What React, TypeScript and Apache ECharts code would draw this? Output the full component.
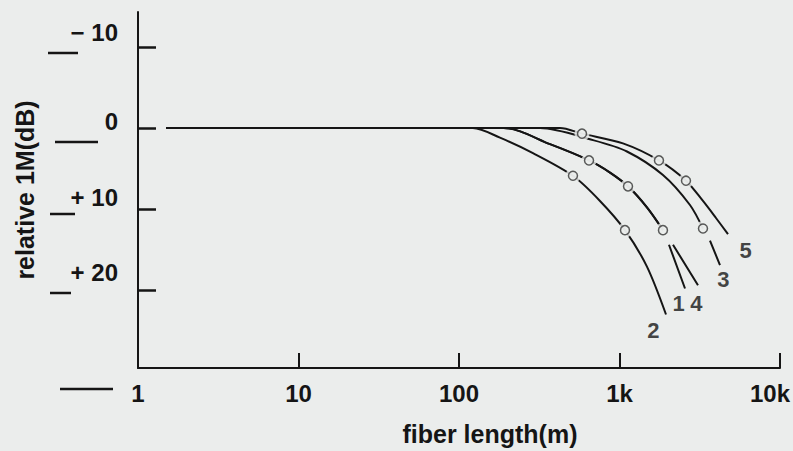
import React, { useEffect, useRef } from "react";
import * as echarts from "echarts";

// ---- data ----
const X_TICKS = [1, 10, 100, 1000, 10000];
const X_TICK_LABELS = ["1", "10", "100", "1k", "10k"];
const Y_TICKS = [-10, 0, 10, 20];
const Y_TICK_LABELS = ["\u2212 10", "0", "+ 10", "+ 20"];

// [fiber length (m), relative level (dB)]; "-" marks a break in the drawn line
const curve2 = [[1.5, 0], [122, 0], [180, 1.2], [289, 3.1], [513, 5.9], [756, 9.0], [1082, 12.6], [1483, 17.1], [1949, 23.0]];
const curve1 = [[1.5, 0], [190, 0], [369, 2.0], [646, 4.0], [873, 5.5], [1130, 7.2], [1483, 9.8], [1866, 12.6], [1950, "-"], [2034, 14.4], [2560, 19.8]];
const curve4 = [[1.5, 0], [190, 0], [369, 2.0], [646, 4.0], [873, 5.5], [1130, 7.2], [1483, 9.8], [1866, 12.6], [2000, "-"], [2155, 14.4], [3084, 19.4]];
const curve3 = [[1.5, 0], [320, 0], [684, 1.5], [1113, 2.9], [1866, 5.8], [2749, 9.5], [3313, 12.4], [3450, "-"], [3663, 13.9], [4228, 16.9]];
const curve5 = [[1.5, 0], [426, 0], [584, 0.7], [1051, 1.9], [1762, 4.0], [2596, 6.5], [3313, 9.0], [3993, 11.1], [4744, 13.1]];

const circlePoints = [
  [513, 5.9], [1082, 12.6],
  [646, 4.0], [1130, 7.2], [1866, 12.6],
  [3313, 12.4],
  [584, 0.7], [1762, 4.0], [2596, 6.5],
];

const curveNames = ["1", "2", "3", "4", "5"];
const curveEnds = [[2560, 19.8], [1949, 23.0], [4228, 16.9], [3084, 19.4], [4744, 13.1]];

const BG = "#ebedec";
const INK = "#151515";
const FONT = "'Liberation Sans', Arial, sans-serif";

export default function App() {
  const ref = useRef<HTMLDivElement>(null);
  useEffect(() => {
    if (!ref.current) return;
    const chart = echarts.init(ref.current, undefined, { renderer: "svg" });
    const labelOffsets: Record<string, number[]> = {
      "1": [-6, 15], "2": [-12, 17], "3": [4, 15], "4": [-1, 19], "5": [18, 17],
    };
    const yShift = [14, 6, 12, 18];
    const yRich: Record<string, any> = {};
    Y_TICKS.forEach((_, i) => {
      yRich["y" + i] = {
        fontSize: 24, fontWeight: "bold", fontFamily: FONT, color: INK,
        padding: [0, 0, yShift[i] * 2, 0],
      };
    });
    const lineSeries = (data: any[]) => ({
      type: "line",
      data,
      symbol: "none",
      smooth: 0.3,
      connectNulls: false,
      lineStyle: { color: INK, width: 2 },
      z: 2,
    });
    chart.setOption({
      animation: false,
      backgroundColor: BG,
      grid: { left: 138, right: 13, top: 12, bottom: 79, containLabel: false },
      xAxis: {
        type: "log",
        logBase: 10,
        min: 1,
        max: 10000,
        position: "bottom",
        name: "fiber length(m)",
        nameLocation: "middle",
        nameGap: 53,
        nameTextStyle: {
          fontSize: 25, fontWeight: "bold", fontFamily: FONT, color: INK,
          padding: [0, 0, 0, 62],
        },
        axisLine: { onZero: false, lineStyle: { color: INK, width: 2 } },
        axisTick: { show: true, inside: true, length: 15, lineStyle: { color: INK, width: 2 } },
        minorTick: { show: false },
        splitLine: { show: false },
        axisLabel: {
          margin: 13,
          fontSize: 24, fontWeight: "bold", fontFamily: FONT, color: INK,
          formatter: (v: number) => {
            const i = Math.round(Math.log10(v));
            const t = X_TICK_LABELS[i] ?? "";
            return i === X_TICKS.length - 1 ? `{e|${t}}` : t;
          },
          rich: {
            e: { fontSize: 24, fontWeight: "bold", fontFamily: FONT, color: INK, padding: [0, 20, 0, 0] },
          },
        },
      },
      yAxis: {
        type: "value",
        inverse: true,
        min: -14.3,
        max: 29.6,
        name: "relative 1M(dB)",
        nameLocation: "middle",
        nameGap: 101,
        nameRotate: 90,
        nameTextStyle: { fontSize: 25, fontWeight: "bold", fontFamily: FONT, color: INK },
        axisLine: { show: true, onZero: false, lineStyle: { color: INK, width: 2 } },
        axisTick: { show: true, inside: true, length: 18, customValues: Y_TICKS, lineStyle: { color: INK, width: 2.5 } },
        splitLine: { show: false },
        axisLabel: {
          customValues: Y_TICKS,
          margin: 20,
          formatter: (v: number) => {
            const i = Y_TICKS.indexOf(v);
            return i < 0 ? "" : `{y${i}|${Y_TICK_LABELS[i]}}`;
          },
          rich: yRich,
        },
      },
      graphic: [
        { type: "line", shape: { x1: 48, y1: 53, x2: 78, y2: 53 }, style: { stroke: INK, lineWidth: 2.5 } },
        { type: "line", shape: { x1: 55, y1: 142, x2: 98, y2: 142 }, style: { stroke: INK, lineWidth: 2.5 } },
        { type: "line", shape: { x1: 50, y1: 214, x2: 75, y2: 214 }, style: { stroke: INK, lineWidth: 2.5 } },
        { type: "line", shape: { x1: 50, y1: 293, x2: 71, y2: 293 }, style: { stroke: INK, lineWidth: 2.5 } },
        { type: "line", shape: { x1: 60, y1: 389, x2: 113, y2: 389 }, style: { stroke: INK, lineWidth: 2.5 } },
      ],
      series: [
        lineSeries(curve2),
        lineSeries(curve1),
        lineSeries(curve4),
        lineSeries(curve3),
        lineSeries(curve5),
        {
          type: "scatter",
          data: circlePoints,
          symbol: "circle",
          symbolSize: 15,
          itemStyle: { color: BG, borderWidth: 0 },
          z: 3,
        },
        {
          type: "scatter",
          data: circlePoints,
          symbol: "circle",
          symbolSize: 9,
          itemStyle: { color: BG, borderColor: "#333", borderWidth: 1.5 },
          z: 4,
        },
        {
          type: "scatter",
          symbolSize: 1,
          itemStyle: { color: "transparent" },
          z: 5,
          data: curveNames.map((n, i) => ({
            value: curveEnds[i],
            label: {
              show: true,
              position: [0, 0],
              align: "center",
              verticalAlign: "middle",
              formatter: n,
              offset: labelOffsets[n],
              fontSize: 22,
              fontWeight: "bold",
              fontFamily: FONT,
              color: INK,
              textBorderWidth: 0,
            },
          })),
        },
      ],
    });
    return () => chart.dispose();
  }, []);
  return (
    <div
      ref={ref}
      style={{ position: "absolute", left: 0, top: 0, width: 793, height: 451 }}
    />
  );
}
